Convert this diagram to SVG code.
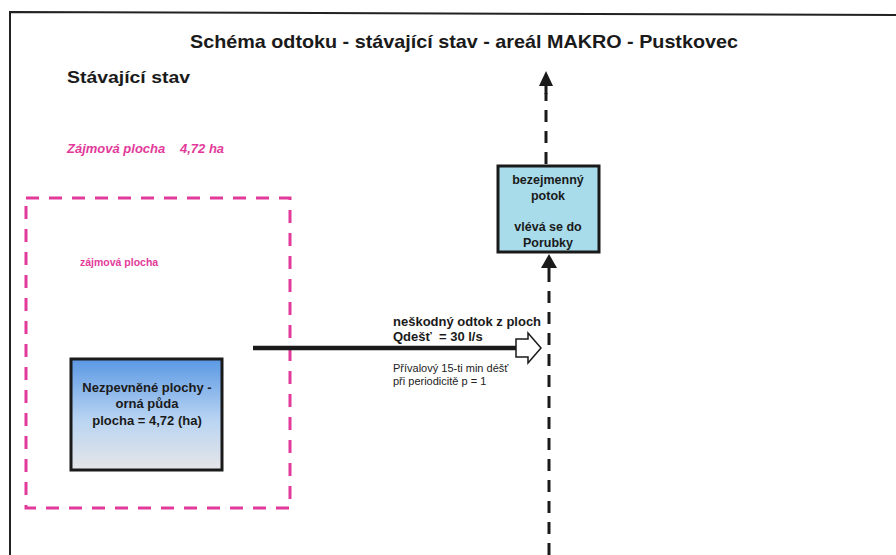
<svg xmlns="http://www.w3.org/2000/svg" width="896" height="555" viewBox="0 0 896 555">
  <style>
    text { font-family: "Liberation Sans", Arial, sans-serif; font-weight: bold; fill: #1a1a1a; }
    .pink { fill: #e23a9a; }
    .flow { fill: none; stroke: #1a1a1a; stroke-width: 3; stroke-dasharray: 12 9; }
    .node { stroke: #1a1a1a; stroke-width: 3; }
    .ctr { text-anchor: middle; }
    .note { font-weight: normal; fill: #222; }
  </style>
  <defs>
    <linearGradient id="soil" x1="0" y1="0" x2="0" y2="1">
      <stop offset="0" stop-color="#5a98e4"/>
      <stop offset="0.55" stop-color="#b9d4f2"/>
      <stop offset="1" stop-color="#e6e6e8"/>
    </linearGradient>
  </defs>

  <rect width="896" height="555" fill="#ffffff"/>

  <!-- frame -->
  <path d="M10,555 L10,12 L896,15" fill="none" stroke="#222" stroke-width="2"/>

  <text x="464" y="48" class="ctr" font-size="18.5" textLength="548" lengthAdjust="spacingAndGlyphs">Schéma odtoku - stávající stav - areál MAKRO - Pustkovec</text>
  <text x="67" y="83" font-size="17" textLength="123" lengthAdjust="spacingAndGlyphs">Stávající stav</text>
  <text x="67" y="153" font-size="13" font-style="italic" class="pink">Zájmová plocha</text>
  <text x="180" y="153" font-size="13" font-style="italic" class="pink">4,72 ha</text>

  <!-- area of interest -->
  <g id="zajmova-plocha">
    <rect x="26" y="198" width="264" height="310" fill="none" stroke="#e23a9a" stroke-width="3" stroke-dasharray="13 10"/>
    <text x="80" y="266" font-size="10.5" class="pink">zájmová plocha</text>
  </g>

  <g id="nezpevnene-plochy">
    <rect x="71" y="359" width="151" height="111" fill="url(#soil)" class="node"/>
    <text x="147" y="392" class="ctr" font-size="13">Nezpevněné plochy -</text>
    <text x="147" y="408" class="ctr" font-size="13">orná půda</text>
    <text x="147" y="425" class="ctr" font-size="13">plocha = 4,72 (ha)</text>
  </g>

  <g id="potok">
    <rect x="498" y="166" width="101" height="86" fill="#a8dcea" class="node"/>
    <text x="548" y="184" class="ctr" font-size="12.5">bezejmenný</text>
    <text x="548" y="200" class="ctr" font-size="12.5">potok</text>
    <text x="548" y="231" class="ctr" font-size="12.5">vlévá se do</text>
    <text x="548" y="247" class="ctr" font-size="12.5">Porubky</text>
  </g>

  <g id="connectors">
    <!-- outflow from area -->
    <line x1="253" y1="348" x2="516" y2="348" stroke="#1a1a1a" stroke-width="4.5"/>
    <path d="M516,339 L528,339 L528,333 L541,348 L528,363 L528,357 L516,357 Z" fill="#ffffff" stroke="#1a1a1a" stroke-width="1.5"/>
    <!-- stream to box -->
    <path d="M549,555 L549,272" class="flow"/>
    <path d="M549,272 L549,262" stroke="#1a1a1a" stroke-width="3"/>
    <path d="M541,268 L549,254 L557,268 Z" fill="#1a1a1a"/>
    <!-- box upward -->
    <path d="M546,164 L546,93" class="flow" stroke-dasharray="11 6"/>
    <path d="M546,94 L546,84" stroke="#1a1a1a" stroke-width="3"/>
    <path d="M539,86 L546,71 L553,86 Z" fill="#1a1a1a"/>
  </g>

  <g id="labels">
    <text x="393" y="326" font-size="13">neškodný odtok z ploch</text>
    <text x="393" y="341" font-size="13" style="white-space:pre">Qdešť  = 30 l/s</text>
    <text x="393" y="372" font-size="11" class="note">Přívalový 15-ti min déšť</text>
    <text x="393" y="385" font-size="11" class="note">při periodicitě p = 1</text>
  </g>
</svg>
